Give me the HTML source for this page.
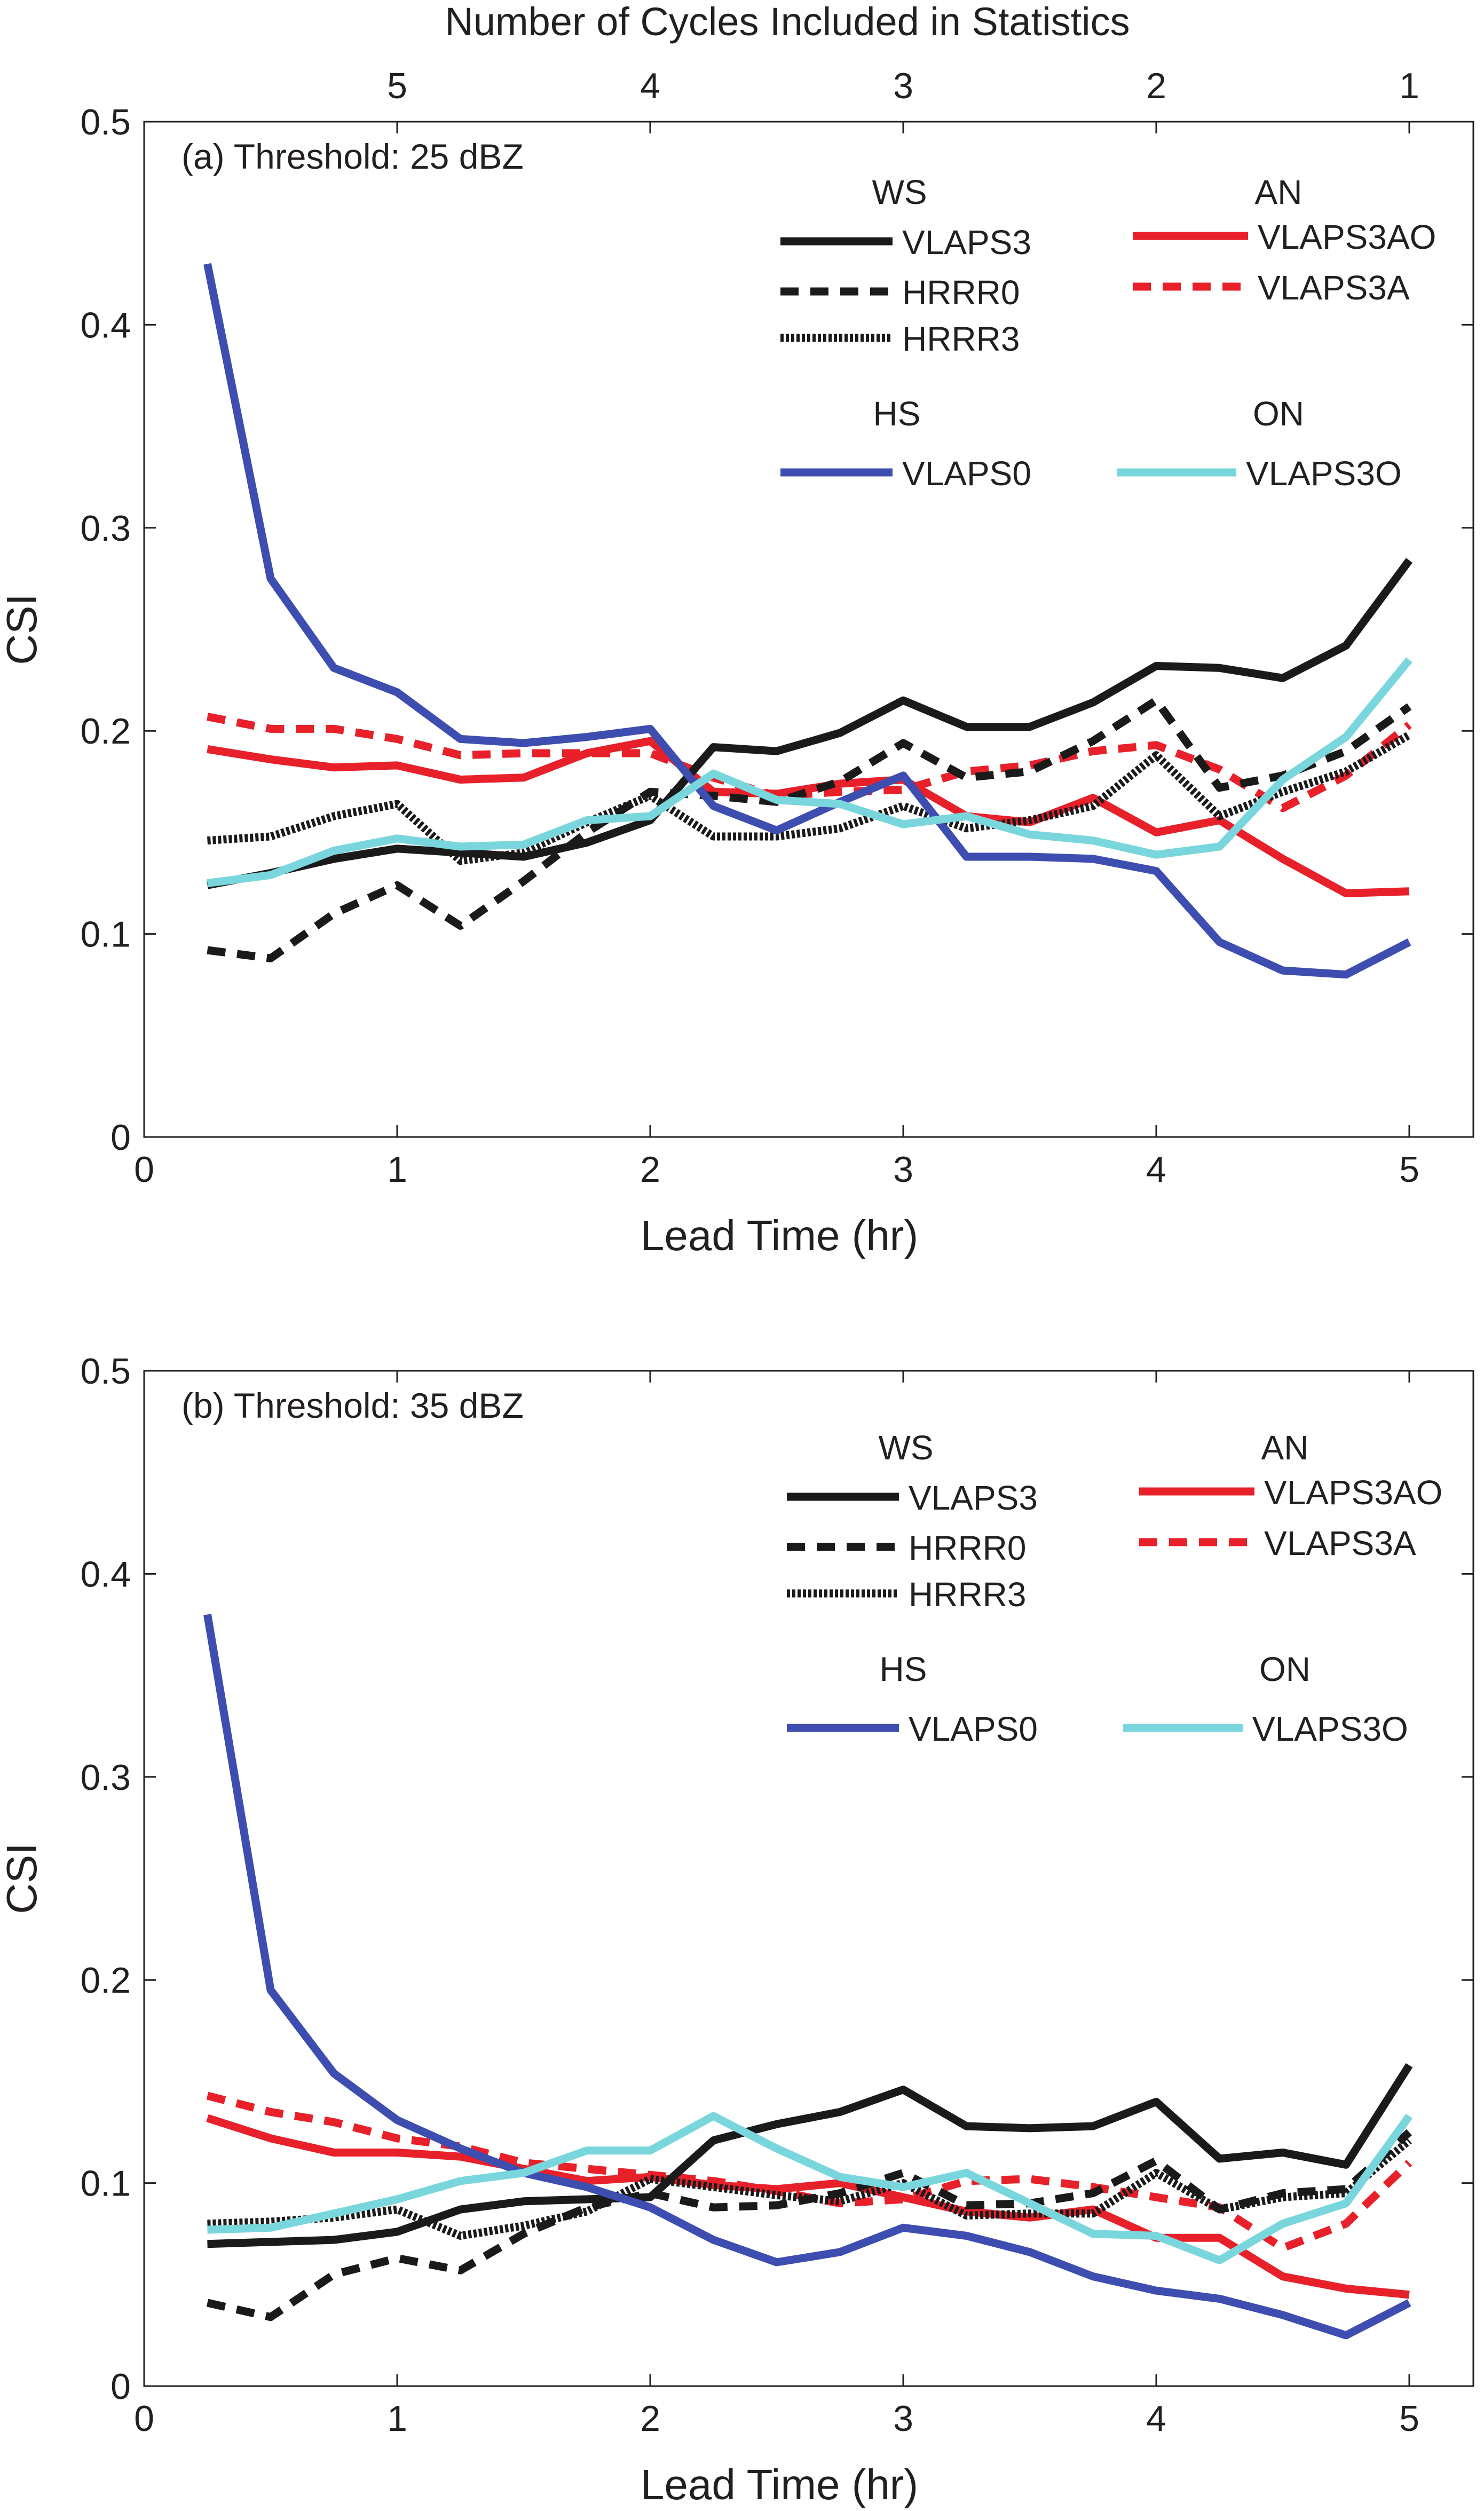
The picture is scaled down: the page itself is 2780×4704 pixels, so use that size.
<!DOCTYPE html>
<html><head><meta charset="utf-8"><style>
html,body{margin:0;padding:0;background:#fff}
svg{display:block;font-family:"Liberation Sans",sans-serif}
</style></head><body>
<svg id="chart" width="2780" height="4704" viewBox="0 0 2780 4704" xmlns="http://www.w3.org/2000/svg"></svg>
<script>
const leadTimes=[0.25,0.5,0.75,1,1.25,1.5,1.75,2,2.25,2.5,2.75,3,3.25,3.5,3.75,4,4.25,4.5,4.75,5];
const xTicks=[0,1,2,3,4,5];
const yTicks=[0,0.1,0.2,0.3,0.4,0.5];
const yTickLabels=["0","0.1","0.2","0.3","0.4","0.5"];
const topTickPos=[1,2,3,4,5];
const topTickLabels=["5","4","3","2","1"];
const a_VLAPS0=[.43,.275,.231,.219,.196,.194,.197,.201,.163,.151,.165,.178,.138,.138,.137,.131,.096,.082,.080,.096];
const a_VLAPS3=[.124,.130,.137,.142,.140,.138,.145,.156,.192,.190,.199,.215,.202,.202,.214,.232,.231,.226,.242,.284];
const a_HRRR0=[.092,.088,.110,.124,.104,.126,.150,.170,.168,.165,.175,.194,.177,.180,.195,.215,.172,.178,.190,.212];
const a_HRRR3=[.146,.148,.158,.164,.136,.140,.155,.168,.148,.148,.152,.163,.152,.156,.163,.188,.158,.170,.180,.198];
const a_VLAPS3AO=[.191,.186,.182,.183,.176,.177,.189,.195,.170,.169,.174,.176,.158,.155,.167,.150,.156,.137,.120,.121];
const a_VLAPS3A=[.207,.201,.201,.196,.188,.189,.189,.189,.177,.168,.170,.171,.180,.183,.190,.193,.181,.162,.178,.203];
const a_VLAPS3O=[.125,.129,.141,.147,.143,.144,.156,.158,.179,.166,.164,.154,.158,.149,.146,.139,.143,.176,.197,.235];
const b_VLAPS0=[.38,.195,.154,.131,.117,.105,.098,.088,.072,.061,.066,.078,.074,.066,.054,.047,.043,.035,.025,.041];
const b_VLAPS3=[.070,.071,.072,.076,.087,.091,.092,.093,.121,.129,.135,.146,.128,.127,.128,.140,.112,.115,.109,.158];
const b_HRRR0=[.041,.034,.055,.063,.057,.075,.088,.095,.088,.089,.095,.105,.089,.090,.095,.111,.087,.095,.097,.125];
const b_HRRR3=[.080,.081,.083,.087,.074,.079,.086,.102,.098,.094,.091,.100,.084,.085,.085,.105,.087,.093,.095,.121];
const b_VLAPS3AO=[.132,.122,.115,.115,.113,.107,.101,.103,.099,.097,.100,.093,.086,.083,.087,.073,.073,.054,.048,.045];
const b_VLAPS3A=[.143,.135,.130,.122,.118,.110,.107,.104,.101,.096,.090,.092,.101,.102,.098,.093,.088,.068,.080,.110];
const b_VLAPS3O=[.077,.078,.085,.092,.101,.105,.116,.116,.133,.117,.103,.098,.105,.090,.075,.074,.062,.080,.090,.133];

const NS="http://www.w3.org/2000/svg";
const svg=document.getElementById('chart');
function mk(tag,attrs,parent){const e=document.createElementNS(NS,tag);for(const k in attrs)e.setAttribute(k,attrs[k]);(parent||svg).appendChild(e);return e;}
function txt(s,x,y,size,anchor,parent){const t=mk('text',{x:x,y:y,'font-size':size,'text-anchor':anchor||'start',fill:'#231f20'},parent);t.textContent=s;return t;}

const styles={
 VLAPS3:{c:'#1a1a1a',d:''},HRRR0:{c:'#1a1a1a',d:'34 22'},HRRR3:{c:'#1a1a1a',d:'6 4'},
 VLAPS3AO:{c:'#e8202a',d:''},VLAPS3A:{c:'#e8202a',d:'34 22'},
 VLAPS0:{c:'#3d4db0',d:''},VLAPS3O:{c:'#79d6dc',d:''}};

function panel(id,top,bottom,label,series,ldx,ldy){
  const L=270,R=2760,ppx=474;
  const g=mk('g',{});
  
  
  const X=v=>L+v*ppx, Y=v=>bottom-(v/0.5)*(bottom-top);
  mk('rect',{x:L,y:top,width:R-L,height:bottom-top,fill:'none',stroke:'#231f20','stroke-width':3},g);
  xTicks.forEach(t=>{
    mk('line',{x1:X(t),x2:X(t),y1:bottom,y2:bottom-22,stroke:'#231f20','stroke-width':3},g);
    mk('line',{x1:X(t),x2:X(t),y1:top,y2:top+22,stroke:'#231f20','stroke-width':3},g);
    const tl=txt(String(t),X(t),bottom+84,68,'middle',g);
    
    
  });
  yTicks.forEach((t,i)=>{
    mk('line',{x1:L,x2:L+22,y1:Y(t),y2:Y(t),stroke:'#231f20','stroke-width':3},g);
    mk('line',{x1:R,x2:R-22,y1:Y(t),y2:Y(t),stroke:'#231f20','stroke-width':3},g);
    const tl=txt(yTickLabels[i],L-25,Y(t)+24,68,'end',g);
    
    
  });
  const xl=txt('Lead Time (hr)',1460,bottom+212,80,'middle',g);
  
  
  const yl=txt('CSI',0,0,80,'middle',g);
  yl.setAttribute('transform','translate(68,'+((top+bottom)/2)+') rotate(-90)');
  
  
  const pl=txt(label,340,top+88,66,'start',g);
  pl.setAttribute('xml:space','preserve');
  
  
  const order=['VLAPS3AO','VLAPS3A','HRRR3','HRRR0','VLAPS3','VLAPS0','VLAPS3O'];
  order.forEach(n=>{
    const vals=series[n];
    const d=vals.map((v,i)=>(i?'L':'M')+X(leadTimes[i]).toFixed(1)+' '+Y(v).toFixed(1)).join(' ');
    const p=mk('path',{d:d,fill:'none',stroke:styles[n].c,'stroke-width':15,'stroke-linejoin':'round'},g);
    if(styles[n].d)p.setAttribute('stroke-dasharray',styles[n].d);
    
    
  });
  const lg=mk('g',{transform:'translate('+ldx+','+ldy+')'},g);
  
  
  const o=top-228;
  txt('WS',1685,o+382,64,'middle',lg);
  txt('AN',2395,o+382,64,'middle',lg);
  txt('HS',1680,o+797,64,'middle',lg);
  txt('ON',2395,o+797,64,'middle',lg);
  const ent=[['VLAPS3',1462,1672,o+452],['HRRR0',1462,1672,o+546],['HRRR3',1462,1672,o+633],
    ['VLAPS3AO',2122,2338,o+442],['VLAPS3A',2122,2338,o+537],['VLAPS0',1462,1672,o+885],['VLAPS3O',2092,2316,o+885]];
  ent.forEach(e=>{
    const eg=mk('g',{},lg);
    
    
    const ln=mk('line',{x1:e[1],x2:e[2],y1:e[3],y2:e[3],stroke:styles[e[0]].c,'stroke-width':15},eg);
    if(styles[e[0]].d)ln.setAttribute('stroke-dasharray',styles[e[0]].d);
    txt(e[0],e[2]+18,e[3]+24,64,'start',eg);
  });
  return {X:X,g:g};
}
const pa=panel('a',228,2130,'(a)  Threshold: 25 dBZ',{VLAPS0:a_VLAPS0,VLAPS3:a_VLAPS3,HRRR0:a_HRRR0,HRRR3:a_HRRR3,VLAPS3AO:a_VLAPS3AO,VLAPS3A:a_VLAPS3A,VLAPS3O:a_VLAPS3O},0,0);
panel('b',2568,4470,'(b)  Threshold: 35 dBZ',{VLAPS0:b_VLAPS0,VLAPS3:b_VLAPS3,HRRR0:b_HRRR0,HRRR3:b_HRRR3,VLAPS3AO:b_VLAPS3AO,VLAPS3A:b_VLAPS3A,VLAPS3O:b_VLAPS3O},12,12);
topTickPos.forEach((p,i)=>{
  const t=txt(topTickLabels[i],pa.X(p),184,68,'middle');
  
  
});
const tt=txt('Number of Cycles Included in Statistics',1475,66,74,'middle');


</script>
</body></html>
